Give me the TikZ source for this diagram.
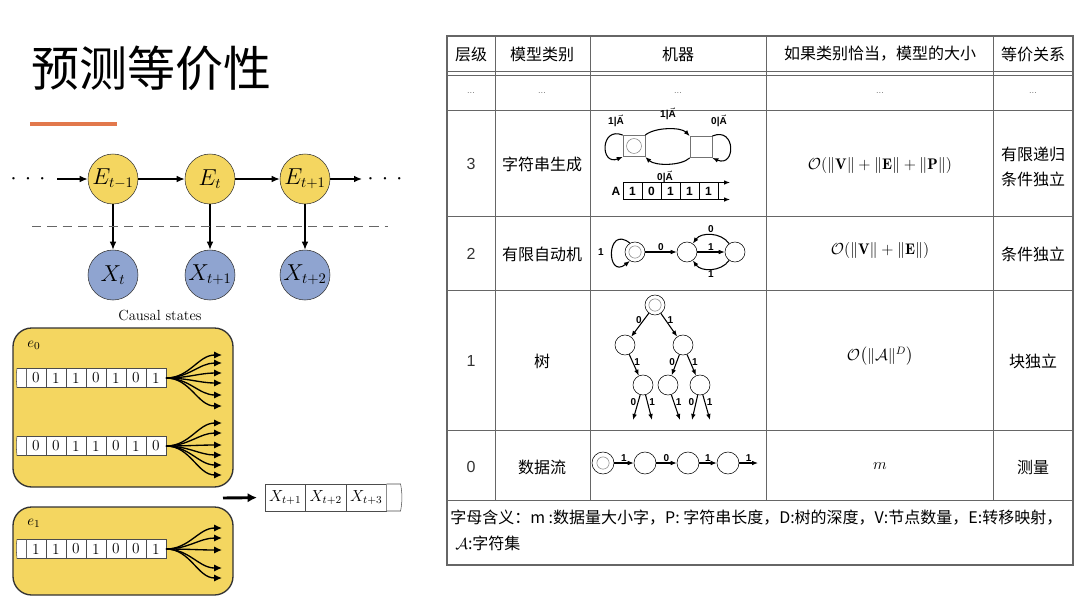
\documentclass[tikz,border=0pt]{standalone}
\usepackage{amsmath,amssymb}
\usepackage{fontspec}
\usetikzlibrary{arrows.meta, positioning, calc}
\newfontfamily\cjk{Noto Sans CJK SC}
\newfontfamily\arial{Liberation Sans}
\definecolor{stateyellow}{RGB}{244,214,96}
\definecolor{obsblue}{RGB}{143,164,208}
\definecolor{accent}{RGB}{226,120,76}

\begin{document}
\begin{tikzpicture}[x=0.75pt, y=0.75pt,
    estate/.style={circle, draw=black!80, fill=stateyellow, minimum size=37.5pt,
                   inner sep=0pt, font=\fontsize{16}{18}\selectfont},
    xstate/.style={estate, fill=obsblue},
    flow/.style={line width=1pt, -{Latex[length=6pt,width=5pt]}},
    causalbox/.style={draw=black!80, line width=1pt, fill=stateyellow,
                      rounded corners=14pt, inner sep=0pt},
    tapecell/.style={draw=black!70, fill=white, minimum width=15pt, minimum height=14.25pt,
                     inner sep=0pt, outer sep=0pt, font=\fontsize{11.5}{12}\selectfont},
    outcell/.style={tapecell, minimum width=30.4pt, minimum height=20.25pt,
                    font=\fontsize{12}{13}\selectfont},
    fan/.style={line width=1pt, -{Latex[length=6pt,width=5.5pt]}},
    tablerule/.style={draw=black!60, line width=0.6pt},
    th/.style={font=\cjk\fontsize{12}{14}\selectfont, inner sep=0pt},
    lvl/.style={font=\arial\fontsize{12}{14}\selectfont, text=black!80},
    tdots/.style={font=\arial\fontsize{7}{8}\selectfont, text=black!50},
    sizecell/.style={font=\fontsize{11.5}{13}\selectfont},
    mstate/.style={circle, draw, minimum size=15pt, inner sep=0pt, fill=white},
    macc/.style={mstate, path picture={\draw[black!50] (path picture bounding box.center) circle (4.6pt);}},
    msq/.style={draw=black!55, fill=white, minimum width=16.5pt, minimum height=16pt, inner sep=0pt},
    medge/.style={line width=0.8pt, -{Latex[length=4.5pt,width=3.5pt]}},
    mlab/.style={font=\arial\bfseries\fontsize{7.5}{8}\selectfont, inner sep=1pt},
    rcell/.style={draw, fill=white, minimum width=14.25pt, minimum height=12.75pt, inner sep=0pt,
                  outer sep=0pt, font=\arial\bfseries\fontsize{9}{10}\selectfont},
]
\fill[white] (0,0) rectangle (1080,-604);
\path[use as bounding box] (0,0) rectangle (1080,-604);

% title
\node[anchor=west, inner sep=0pt, font=\cjk\fontsize{36}{40}\selectfont] (title) at (31,-68) {预测等价性};
\draw[accent, line width=3pt] (30,-124) -- (117,-124);

% hidden chain and observations
\node[estate] (E1) at (113,-179) {$E_{t-1}$};
\node[estate] (E2) at (210,-179) {$E_t$};
\node[estate] (E3) at (305,-179) {$E_{t+1}$};
\node[xstate] (X1) at (113,-275) {$X_t$};
\node[xstate] (X2) at (210,-275) {$X_{t+1}$};
\node[xstate] (X3) at (305,-275) {$X_{t+2}$};
\node[font=\fontsize{16}{18}\selectfont] (dotsl) at (28,-179) {$\cdot$\hspace{6pt}$\cdot$\hspace{6pt}$\cdot$};
\node[font=\fontsize{16}{18}\selectfont] (dotsr) at (385,-179) {$\cdot$\hspace{6pt}$\cdot$\hspace{6pt}$\cdot$};
\coordinate (flowin) at (57,-179);
\coordinate (flowout) at (362,-179);
\draw[flow] (flowin) -- (E1);
\draw[flow] (E1) -- (E2);
\draw[flow] (E2) -- (E3);
\draw[flow] (E3) -- (flowout);
\foreach \i in {1,2,3}
  \draw[flow] (E\i) -- (X\i);
\coordinate (cutl) at (32,-226);
\coordinate (cutr) at (388,-226);
\draw[black!60, line width=0.6pt, dash pattern=on 7pt off 4.5pt] (cutl) -- (cutr);
\node[font=\fontsize{11}{12}\selectfont] (causal) at (160,-315) {Causal states};

% causal state boxes
\node[causalbox, minimum width=165pt, minimum height=119.25pt] (box0) at (123,-407.5) {};
\node[causalbox, minimum width=165pt, minimum height=66pt] (box1) at (123,-551) {};
\node[font=\fontsize{11}{12}\selectfont] (e0) at (34,-345) {$e_0$};
\node[font=\fontsize{11}{12}\selectfont] (e1) at (34,-523) {$e_1$};

\foreach \b [count=\i] in {0,1,1,0,1,0,1}
  \node[tapecell] (ta\i) at (16+20*\i,-378) {\b};
\foreach \b [count=\i] in {0,0,1,1,0,1,0}
  \node[tapecell] (tb\i) at (16+20*\i,-446) {\b};
\foreach \b [count=\i] in {1,1,0,1,0,0,1}
  \node[tapecell] (tc\i) at (16+20*\i,-549) {\b};
\foreach \t in {ta,tb,tc}
  \draw[draw=black!70, fill=white] (\t1.north west) -- ++(-9,0) to[out=-100,in=95] ++(0,-19) -- (\t1.south west);
\foreach \yy in {355,363,373,383,395,406}
  \draw[fan] (ta7.east) to[out=0,in=180] (222,-\yy);
\foreach \yy in {423,433,445,455,465,475}
  \draw[fan] (tb7.east) to[out=0,in=180] (222,-\yy);
\foreach \yy in {528,538,550,568,578}
  \draw[fan] (tc7.east) to[out=0,in=180] (222,-\yy);

% future tape
\node[outcell] (o1) at (285.25,-497.5) {$X_{t+1}$};
\node[outcell, right=0pt of o1] (o2) {$X_{t+2}$};
\node[outcell, right=0pt of o2] (o3) {$X_{t+3}$};
\draw[draw=black!70, fill=white] (o3.north east) -- ++(14,0) to[out=-80,in=80] ++(0,-27) -- (o3.south east);
\coordinate (bigstart) at (223,-498);
\draw[line width=2.2pt, -{Latex[length=7pt,width=7pt]}, shorten >=6pt] (bigstart) -- (o1.west);

% table grid
\foreach \yy in {71,75,110,216,290,430,500}
  \draw[tablerule] (447,-\yy) -- (1073,-\yy);
\foreach \xx in {495,590,766,993}
  \draw[tablerule] (\xx,-36) -- (\xx,-500);
\draw[tablerule, line width=1pt] (447,-36) rectangle (1073,-565);

% header and dots row
\node[th] (h1) at (471,-54) {层级};
\node[th] (h2) at (542,-54) {模型类别};
\node[th] (h3) at (678,-54) {机器};
\node[th] (h4) at (880,-54) {如果类别恰当，模型的大小};
\node[th] (h5) at (1033,-54) {等价关系};
\foreach \xx in {471,542,678,880,1033}
  \node[tdots] (d\xx) at (\xx,-93) {...};

% levels, classes, sizes, relations
\node[lvl] (l3) at (471,-164) {3};
\node[lvl] (l2) at (471,-254) {2};
\node[lvl] (l1) at (471,-361) {1};
\node[lvl] (l0) at (471,-467) {0};
\node[th] (c3) at (542,-164) {字符串生成};
\node[th] (c2) at (542,-254) {有限自动机};
\node[th] (c1) at (542,-361) {树};
\node[th] (c0) at (542,-467) {数据流};
\node[sizecell] (s3) at (880,-165) {$\mathcal{O}(\|\mathbf{V}\|+\|\mathbf{E}\|+\|\mathbf{P}\|)$};
\node[sizecell] (s2) at (880,-250) {$\mathcal{O}(\|\mathbf{V}\|+\|\mathbf{E}\|)$};
\node[sizecell] (s1) at (880,-356) {$\mathcal{O}\!\left(\|\mathcal{A}\|^{D}\right)$};
\node[sizecell] (s0) at (880,-466) {$m$};
\node[th, align=center, font=\cjk\fontsize{12}{18.75}\selectfont] (q3r) at (1033,-167) {有限递归\\条件独立};
\node[th] (q2r) at (1033,-254) {条件独立};
\node[th] (q1r) at (1033,-361) {块独立};
\node[th] (q0r) at (1033,-467) {测量};

% footer
\node[anchor=west, inner sep=0pt, font=\cjk\fontsize{12}{14}\selectfont] (legend1) at (450,-518)
  {字母含义：m :数据量大小字，P: 字符串长度，D:树的深度，V:节点数量，E:转移映射，};
\node[anchor=west, inner sep=0pt, font=\cjk\fontsize{12}{14}\selectfont] (legend2) at (455,-543)
  {$\mathcal{A}$:字符集};

% machine: string production
\node[msq, path picture={\draw[black!50] (path picture bounding box.center) circle (5.6pt);}] (sA) at (634,-146) {};
\node[msq] (sB) at (701,-147) {};
\draw[medge] (sA.north west) .. controls (600,-126) and (600,-166) .. (sA.south west);
\draw[medge] (sA.north east) .. controls (655,-127) and (681,-127) .. (sB.north west);
\draw[medge] (sB.south west) .. controls (681,-166) and (655,-166) .. (sA.south east);
\draw[medge] (sB.north east) .. controls (736,-126) and (736,-168) .. (sB.south east);
\node[mlab] (lbA) at (616,-121) {1|$\vec{\text{A}}$};
\node[mlab] (lbB) at (668,-114) {1|$\vec{\text{A}}$};
\node[mlab] (lbC) at (719,-121) {0|$\vec{\text{A}}$};
\node[mlab] (lbD) at (665,-177) {0|$\vec{\text{A}}$};
\node[mlab, font=\arial\bfseries\fontsize{9}{10}\selectfont] (tapeA) at (616,-191) {A};
\foreach \b [count=\i] in {1,0,1,1,1}
  \node[rcell] (r\i) at (613.5+19*\i,-191) {\b};
\draw[medge] (r5.north east) -- ++(12,0);
\draw[medge] (r5.south east) -- ++(12,0);

% machine: finite automaton
\node[macc] (p0) at (635,-252) {};
\node[mstate] (p1) at (687,-252) {};
\node[mstate] (p2) at (735,-252) {};
\draw[medge] (p0.120) .. controls (606,-224) and (606,-280) .. (p0.240);
\node[mlab] (lp0) at (601,-252) {1};
\draw[medge] (p0) -- node[mlab, above] {0} (p1);
\draw[medge] (p1) -- node[mlab, above] {1} (p2);
\draw[medge] (p2) to[bend right=55] node[mlab, above] {0} (p1);
\draw[medge] (p2) to[bend left=55] node[mlab, below] {1} (p1);

% machine: tree
\node[macc] (n0) at (655,-305) {};
\node[mstate] (n1) at (625,-345) {};
\node[mstate] (n2) at (683,-345) {};
\node[mstate] (n3) at (643,-385) {};
\node[mstate] (n4) at (668,-385) {};
\node[mstate] (n5) at (700,-385) {};
\coordinate (k1) at (633,-420);
\coordinate (k2) at (652,-420);
\coordinate (k3) at (680,-420);
\coordinate (k4) at (692,-420);
\coordinate (k5) at (710,-420);
\draw[medge] (n0) -- node[mlab, left, pos=0.3] {0} (n1);
\draw[medge] (n0) -- node[mlab, right, pos=0.3] {1} (n2);
\draw[medge] (n1) -- node[mlab, right, pos=0.35] {1} (n3);
\draw[medge] (n2) -- node[mlab, left, pos=0.35] {0} (n4);
\draw[medge] (n2) -- node[mlab, right, pos=0.35] {1} (n5);
\draw[medge] (n3) -- node[mlab, left, pos=0.3] {0} (k1);
\draw[medge] (n3) -- node[mlab, right, pos=0.3] {1} (k2);
\draw[medge] (n4) -- node[mlab, right, pos=0.3] {1} (k3);
\draw[medge] (n5) -- node[mlab, left, pos=0.3] {0} (k4);
\draw[medge] (n5) -- node[mlab, right, pos=0.3] {1} (k5);

% machine: data stream
\node[macc, minimum size=16.5pt] (a0) at (603,-463) {};
\node[mstate, minimum size=16.5pt] (a1) at (645,-463) {};
\node[mstate, minimum size=16.5pt] (a2) at (688,-463) {};
\node[mstate, minimum size=16.5pt] (a3) at (728,-463) {};
\coordinate (aend) at (758,-463);
\draw[medge] (a0) -- node[mlab, above] {1} (a1);
\draw[medge] (a1) -- node[mlab, above] {0} (a2);
\draw[medge] (a2) -- node[mlab, above] {1} (a3);
\draw[medge] (a3) -- node[mlab, above] {1} (aend);
\end{tikzpicture}
\end{document}
